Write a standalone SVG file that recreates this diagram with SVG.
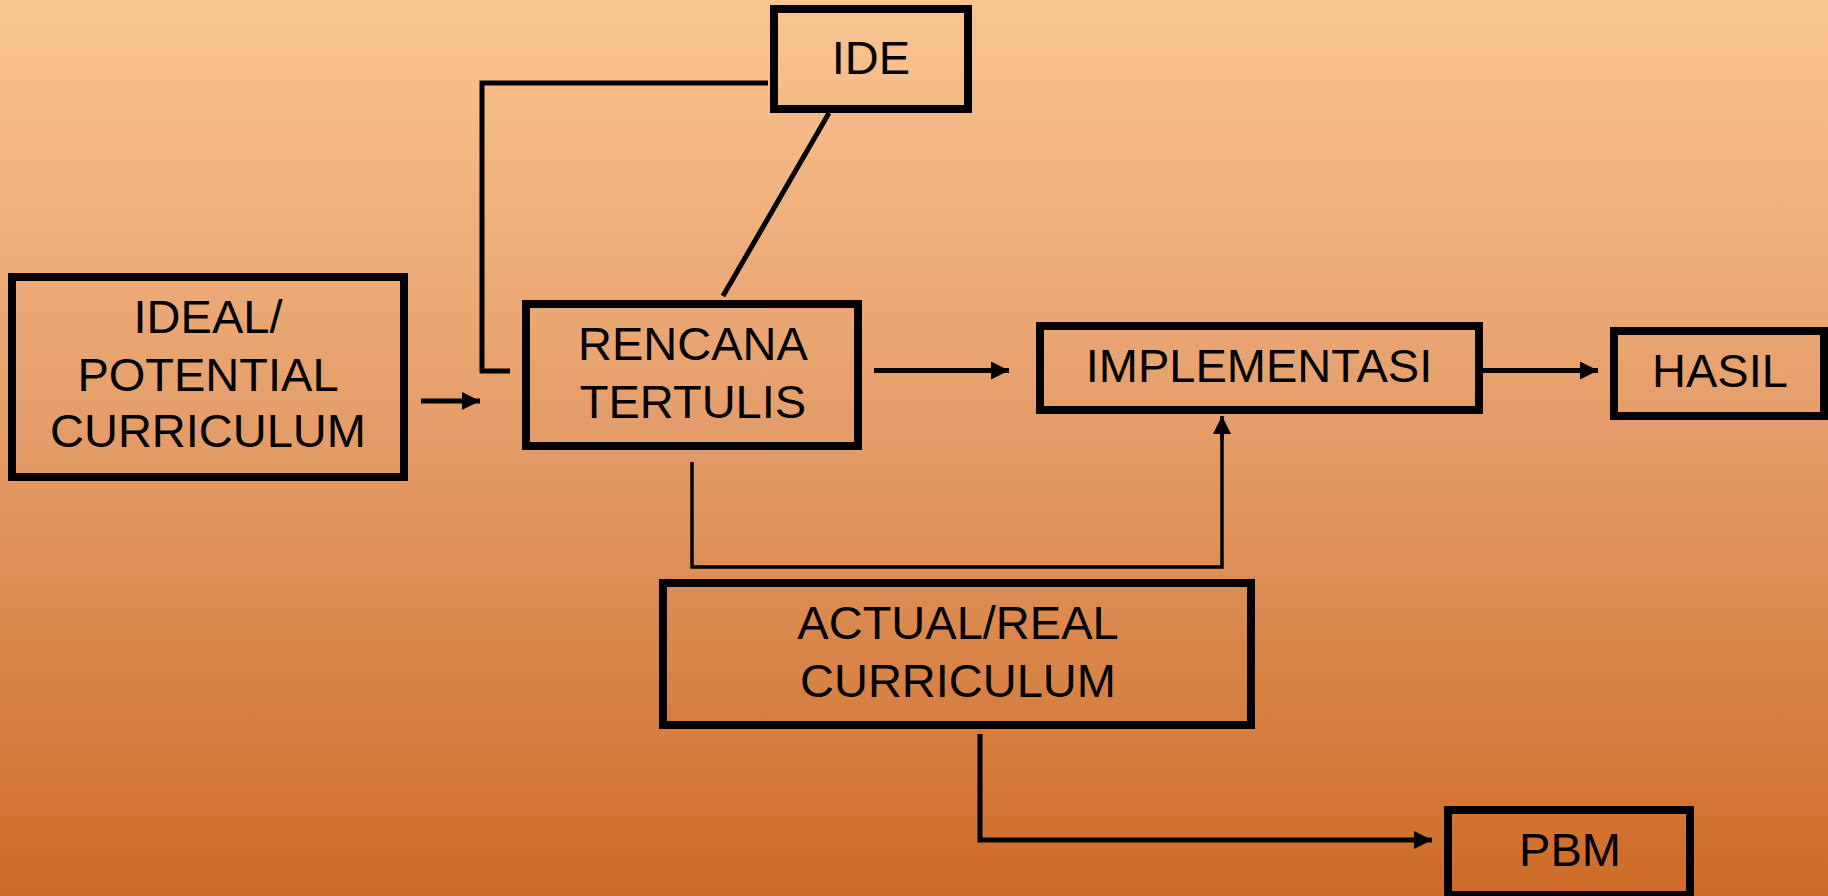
<svg xmlns="http://www.w3.org/2000/svg" width="1828" height="896" viewBox="0 0 1828 896">
<defs>
<linearGradient id="bg" x1="0" y1="0" x2="0" y2="1">
<stop offset="0" stop-color="#FAC592"/>
<stop offset="0.5" stop-color="#E39B67"/>
<stop offset="1" stop-color="#CE6B27"/>
</linearGradient>
<marker id="ah" markerUnits="userSpaceOnUse" markerWidth="18" markerHeight="18" refX="18" refY="9" orient="auto" viewBox="0 0 18 18">
<path d="M0,0 L18,9 L0,18 z" fill="#000"/>
</marker>
</defs>
<style>
.box{fill:none;stroke:#000;stroke-width:8}
.t{font-family:"Liberation Sans",Arial,sans-serif;font-size:47px;fill:#000;text-anchor:middle}
.c{fill:none;stroke:#000;stroke-width:5}
.thin{fill:none;stroke:#000;stroke-width:3.5}
</style>
<rect x="0" y="0" width="1828" height="896" fill="url(#bg)"/>
<g id="connectors">
<polyline class="c" points="768,83 482,83 482,371 510,371"/>
<line class="c" x1="829" y1="113" x2="723" y2="296"/>
<line class="c" x1="421" y1="401" x2="480" y2="401" marker-end="url(#ah)"/>
<line class="c" x1="874" y1="370.5" x2="1009" y2="370.5" marker-end="url(#ah)"/>
<line class="c" x1="1483" y1="370.5" x2="1598" y2="370.5" marker-end="url(#ah)"/>
<polyline class="thin" points="692,462 692,567 1222,567 1222,432"/>
<line class="thin" x1="1222" y1="440" x2="1222" y2="416" marker-end="url(#ah)"/>
<polyline class="c" points="980,734 980,840 1432,840" marker-end="url(#ah)"/>
</g>
<g id="node-ide">
<rect class="box" x="774" y="9" width="194" height="100"/>
<text class="t" x="871" y="74">IDE</text>
</g>
<g id="node-ideal">
<rect class="box" x="12" y="277" width="392" height="200"/>
<text class="t" x="208" y="333">IDEAL/</text>
<text class="t" x="208" y="391">POTENTIAL</text>
<text class="t" x="208" y="447">CURRICULUM</text>
</g>
<g id="node-rencana">
<rect class="box" x="526" y="304" width="332" height="142"/>
<text class="t" x="693" y="360">RENCANA</text>
<text class="t" x="693" y="418">TERTULIS</text>
</g>
<g id="node-implementasi">
<rect class="box" x="1040" y="326" width="439" height="84"/>
<text class="t" x="1259" y="382">IMPLEMENTASI</text>
</g>
<g id="node-hasil">
<rect class="box" x="1614" y="331" width="210" height="85"/>
<text class="t" x="1720" y="387">HASIL</text>
</g>
<g id="node-actual">
<rect class="box" x="663" y="583" width="588" height="142"/>
<text class="t" x="958" y="639">ACTUAL/REAL</text>
<text class="t" x="958" y="697">CURRICULUM</text>
</g>
<g id="node-pbm">
<rect class="box" x="1448" y="810" width="242" height="85"/>
<text class="t" x="1570" y="866">PBM</text>
</g>
</svg>
